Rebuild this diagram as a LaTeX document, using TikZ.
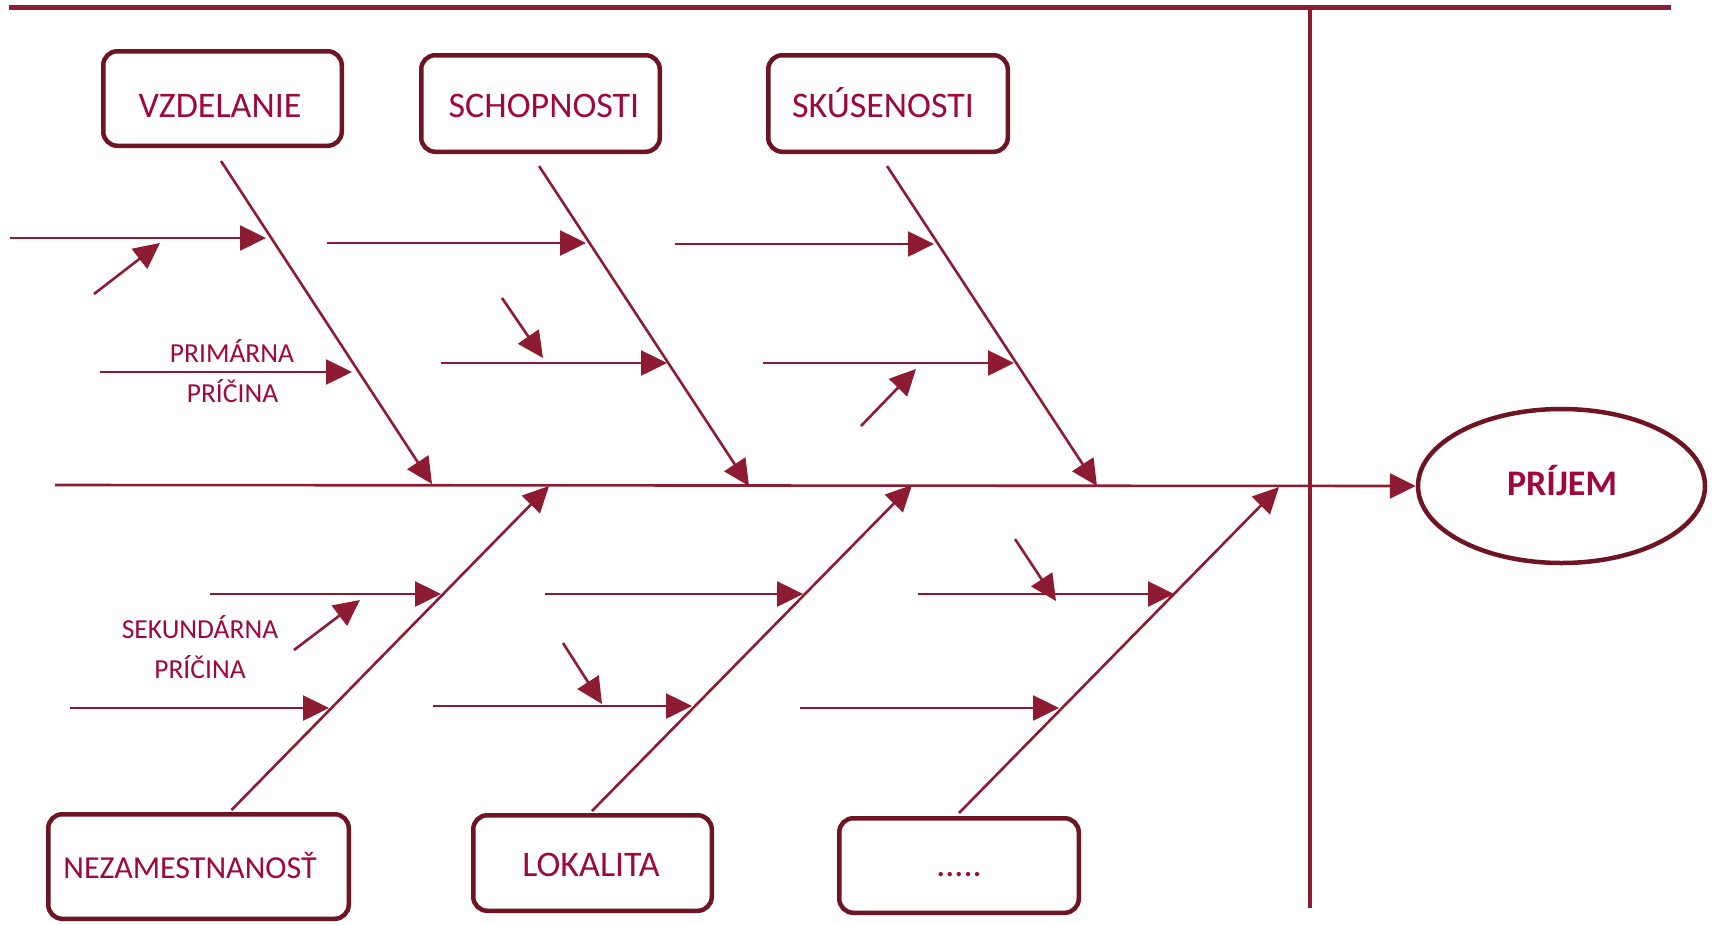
\documentclass[tikz,border=0pt]{standalone}
\usepackage{fontspec}
\setmainfont{Carlito}
\usetikzlibrary{arrows.meta,shapes.geometric}
\definecolor{linecol}{RGB}{141,27,50}
\definecolor{boxcol}{RGB}{110,20,35}
\definecolor{textcol}{RGB}{158,8,58}
\tikzset{
  cbox/.style={draw=boxcol,line width=4.5pt,rounded corners=14pt,inner sep=0pt,fill=white},
  bigtxt/.style={text=textcol,font=\fontsize{36}{40}\selectfont,anchor=base,inner sep=0pt},
  smalltxt/.style={text=textcol,font=\fontsize{27.5}{32}\selectfont,anchor=base,inner sep=0pt},
  bone/.style={draw=linecol,line width=2.6pt,-{Triangle[length=26pt,width=25pt]}},
  rib/.style={draw=linecol,line width=2.6pt,-{Triangle[length=26pt,width=25pt]}},
  frame/.style={draw=linecol,line width=4.5pt}
}
\begin{document}
\begin{tikzpicture}[x=1pt,y=-1pt]
\useasboundingbox (0,0) rectangle (1715,924);
% frame lines
\coordinate (tl) at (9,7.5);
\coordinate (tr) at (1671,7.5);
\coordinate (vt) at (1310,8);
\coordinate (vb) at (1310,908);
\draw[frame] (tl) -- (tr);
\draw[draw=linecol,line width=4pt] (vt) -- (vb);
% effect
\node[ellipse,draw=boxcol,line width=4.5pt,minimum width=287pt,minimum height=154pt,inner sep=0pt] (prijem) at (1561.5,486) {};
\node[bigtxt,font=\fontsize{36}{40}\selectfont\bfseries] (prijemt) at (1562,495) {PRÍJEM};
\coordinate (spstart) at (55,485);
\draw[bone] (spstart) -- (prijem.west);
% boxes
\node[cbox,minimum width=238.5pt,minimum height=94.5pt] (vzd) at (222.5,98.5) {};
\node[bigtxt] (vzdt) at (220,117) {VZDELANIE};
\node[cbox,minimum width=238.5pt,minimum height=96.5pt] (sch) at (540.5,103.5) {};
\node[bigtxt] (scht) at (544,117) {SCHOPNOSTI};
\node[cbox,minimum width=239.5pt,minimum height=96.5pt] (sku) at (888,103.5) {};
\node[bigtxt] (skut) at (883,117) {SKÚSENOSTI};
\node[cbox,minimum width=300.5pt,minimum height=104.5pt] (nez) at (198.5,866.5) {};
\node[bigtxt,font=\fontsize{32}{36}\selectfont] (nezt) at (190,878) {NEZAMESTNANOSŤ};
\node[cbox,minimum width=238.5pt,minimum height=95.5pt] (lok) at (592.5,863) {};
\node[bigtxt] (lokt) at (591,876) {LOKALITA};
\node[cbox,minimum width=239.5pt,minimum height=94.5pt] (dots) at (959,865.5) {};
\node[bigtxt] (dotst) at (959,876) {.....};
% bones
\coordinate (vzdA) at (221,161);   \coordinate (vzdB) at (432,484);
\coordinate (schA) at (539,166);   \coordinate (schB) at (749,486);
\coordinate (skuA) at (887,166);   \coordinate (skuB) at (1097,486);
\coordinate (nezA) at (231.5,810); \coordinate (nezB) at (549,486);
\coordinate (lokA) at (592,811);   \coordinate (lokB) at (912,485);
\coordinate (dotA) at (959,813);   \coordinate (dotB) at (1279,487);
\foreach \b in {vzd,sch,sku,nez,lok,dot} \draw[bone] (\b A) -- (\b B);
% primary causes
\coordinate (a1A) at (10,238);  \coordinate (a1B) at (266,238);
\coordinate (a2A) at (327,243); \coordinate (a2B) at (586,243);
\coordinate (a3A) at (675,244); \coordinate (a3B) at (934,244);
\coordinate (b1A) at (100,372); \coordinate (b1B) at (352,372);
\coordinate (b2A) at (441,363); \coordinate (b2B) at (667,363);
\coordinate (b3A) at (763,363); \coordinate (b3B) at (1014,363);
\coordinate (c1A) at (210,594); \coordinate (c1B) at (441,594);
\coordinate (c2A) at (545,594); \coordinate (c2B) at (803,594);
\coordinate (c3A) at (918,594); \coordinate (c3B) at (1174,594);
\coordinate (d1A) at (70,708);  \coordinate (d1B) at (329,708);
\coordinate (d2A) at (433,706); \coordinate (d2B) at (692,706);
\coordinate (d3A) at (800,708); \coordinate (d3B) at (1059,708);
% secondary causes
\coordinate (s1A) at (94,294);   \coordinate (s1B) at (160,243);
\coordinate (s2A) at (502,298);  \coordinate (s2B) at (543,358);
\coordinate (s3A) at (861,426);  \coordinate (s3B) at (916,369);
\coordinate (s4A) at (294,650);  \coordinate (s4B) at (360,600);
\coordinate (s5A) at (563,643);  \coordinate (s5B) at (602,704);
\coordinate (s6A) at (1015,539); \coordinate (s6B) at (1056,601);
\foreach \r in {a1,a2,a3,b1,b2,b3,c1,c2,c3,d1,d2,d3,s1,s2,s3,s4,s5,s6} \draw[rib] (\r A) -- (\r B);
% labels
\node[smalltxt] (prim1) at (232,362) {PRIMÁRNA};
\node[smalltxt] (prim2) at (232.5,402) {PRÍČINA};
\node[smalltxt] (sek1) at (200,638) {SEKUNDÁRNA};
\node[smalltxt] (sek2) at (200,678) {PRÍČINA};
\end{tikzpicture}
\end{document}
